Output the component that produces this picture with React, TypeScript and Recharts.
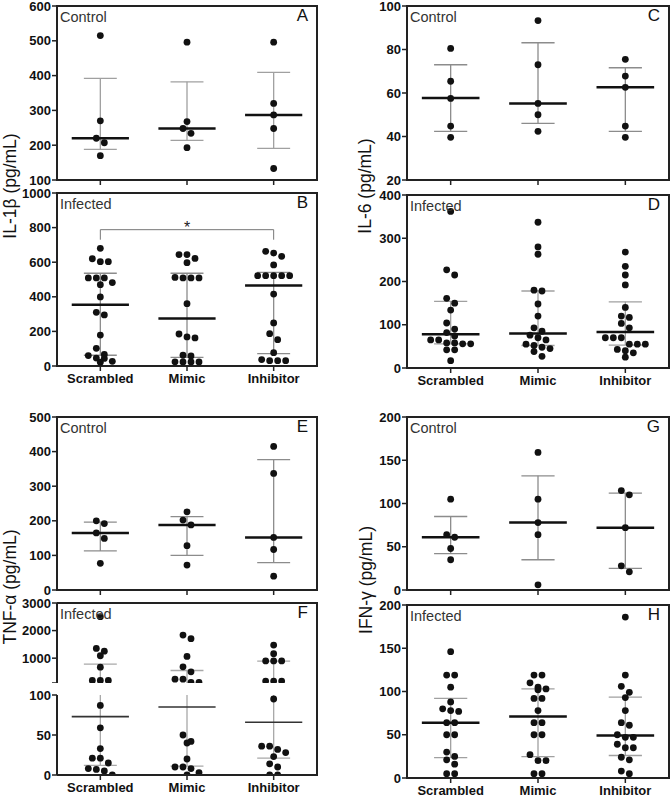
import React from 'react';
import { ScatterChart, Scatter, XAxis, YAxis, ReferenceLine, ReferenceArea } from 'recharts';

const cats = ['Scrambled', 'Mimic', 'Inhibitor'];

// A: IL-1β control
const il1bCtrl = [
  [515, 270, 220, 207, 170],
  [496, 268, 248, 234, 193],
  [496, 320, 287, 248, 133],
];
const il1bCtrlMed = [220, 248, 287];
const il1bCtrlQ1 = [188, 214, 191];
const il1bCtrlQ3 = [392, 382, 409];

// B: IL-1β infected
const il1bInf = [
  [680, 620, 603, 603, 509, 509, 509, 482, 470, 399, 310, 295, 179, 102, 67, 60, 46, 44, 27, 22],
  [644, 644, 622, 597, 512, 509, 509, 509, 360, 185, 168, 162, 62, 58, 24, 23, 23, 23],
  [663, 653, 634, 584, 522, 522, 522, 522, 522, 416, 249, 187, 152, 77, 37, 31, 31, 31],
];
const il1bInfMed = [354, 274, 465];
const il1bInfQ1 = [62, 50, 71];
const il1bInfQ3 = [536, 536, 541];

// C: IL-6 control
const il6Ctrl = [
  [80.5, 65.4, 57.5, 44.8, 39.6],
  [93.3, 73, 55.2, 50, 42.4],
  [75.5, 67.8, 62.6, 44.8, 39.6],
];
const il6CtrlMed = [57.7, 55.2, 62.6];
const il6CtrlQ1 = [42.4, 46, 42.4];
const il6CtrlQ3 = [73, 83.1, 71.6];

// D: IL-6 infected
const il6Inf = [
  [362, 227, 215, 161, 150, 134, 104, 90, 82, 74, 65, 65, 58, 58, 56, 56, 42, 42, 17],
  [337, 280, 263, 180, 178, 148, 120, 93, 85, 76, 70, 65, 55, 52, 48, 45, 38, 27],
  [268, 235, 215, 192, 140, 120, 117, 103, 93, 70, 70, 70, 55, 55, 55, 43, 40, 35, 25],
];
const il6InfMed = [78, 80, 83];
const il6InfQ1 = [56, 52, 53];
const il6InfQ3 = [154, 178, 153];

// E: TNF-α control
const tnfCtrl = [
  [200, 192, 165, 149, 77],
  [226, 202, 188, 128, 72],
  [415, 337, 152, 117, 40],
];
const tnfCtrlMed = [165, 188, 152];
const tnfCtrlQ1 = [113, 100, 79];
const tnfCtrlQ3 = [196, 212, 377];

// F: TNF-α infected (broken axis at 100)
const tnfInf = [
  [2505, 1353, 1255, 1087, 673, 190, 190, 190, 87, 59, 33, 21, 21, 15, 8, 7, 5, 0],
  [1836, 1705, 1062, 687, 505, 240, 240, 120, 120, 50, 42, 40, 20, 10, 10, 8, 3, 0],
  [1473, 1160, 900, 900, 900, 170, 170, 170, 95, 36, 36, 32, 28, 23, 14, 10, 0, 0],
];
const tnfInfMed = [73, 85, 66];
const tnfInfQ1 = [12, 11, 21];
const tnfInfQ3 = [782, 553, 891];

// G: IFN-γ control
const ifnCtrl = [
  [105, 64, 61, 48, 35],
  [159, 105, 78, 64, 6],
  [115, 110, 72, 28, 21],
];
const ifnCtrlMed = [61, 78, 72];
const ifnCtrlQ1 = [42, 35, 25];
const ifnCtrlQ3 = [85, 132, 112];

// H: IFN-γ infected
const ifnInf = [
  [146, 119, 119, 105, 88, 80, 78, 77, 64, 64, 50, 50, 30, 25, 21, 16, 5, 5],
  [119, 119, 110, 105, 103, 102, 92, 92, 78, 64, 64, 50, 50, 27, 20, 20, 5, 5],
  [186, 119, 106, 99, 93, 78, 64, 61, 50, 47, 47, 39, 35, 35, 24, 21, 8, 5],
];
const ifnInfMed = [64, 71, 49];
const ifnInfQ1 = [23.5, 24.7, 26];
const ifnInfQ3 = [92, 103, 93.4];

const FONT = '"Liberation Sans", Arial, sans-serif';

// spread points that sit at nearly the same height side by side (like a column scatter)
const swarm = (vals: number[], pxPerUnit: number, center: number, unitPx: number) => {
  const sorted = [...vals].sort((a, b) => b - a);
  const rows: number[][] = [];
  sorted.forEach((v) => {
    const row = rows[rows.length - 1];
    if (row && (row[0] - v) * pxPerUnit < 6.5) row.push(v);
    else rows.push([v]);
  });
  return rows.flatMap((row) =>
    row.map((v, i) => ({ x: center + ((i - (row.length - 1) / 2) * 8) / unitPx, y: v }))
  );
};

const Dot = (props: any) => <circle cx={props.cx} cy={props.cy} r={3.4} fill="#111" />;

type PanelProps = {
  left: number;
  top: number;
  w: number;
  h: number;
  domain: [number, number];
  ticks: number[];
  data: number[][];
  med: number[];
  q1: number[];
  q3: number[];
  showCats?: boolean;
  hideX?: boolean;
  frame?: boolean;
  tickFmt?: (v: number) => string;
  medW?: number;
  medColor?: string;
  barColor?: string;
  children?: React.ReactNode;
};

function Panel(p: PanelProps) {
  const { left, top, w, h, domain, ticks, data, med, q1, q3 } = p;
  const [d0, d1] = domain;
  const yW = 57;
  const tm = 8;
  const xh = p.showCats ? 26 : p.hideX ? 0 : 8;
  const frame = p.frame !== false;
  const pts = data.flatMap((g, i) =>
    swarm(g.filter((v) => v >= d0 && v <= d1), h / (d1 - d0), i + 1, w / 3)
  );
  const bar = { stroke: p.barColor ?? '#8c8c8c', strokeWidth: 1.3 };
  const capW = 0.19;
  const medHalf = 0.33;

  return (
    <div style={{ position: 'absolute', left: left - yW, top: top - tm }}>
      <ScatterChart width={yW + w + 2} height={tm + h + xh} margin={{ top: tm, right: 2, bottom: 0, left: 0 }}>
        <XAxis
          type="number"
          dataKey="x"
          domain={[0.5, 3.5]}
          ticks={[1, 2, 3]}
          interval={0}
          hide={p.hideX}
          height={xh}
          axisLine={false}
          tickSize={5}
          tickMargin={3}
          tickLine={{ stroke: '#222', strokeWidth: 1.5 }}
          tick={{ fontSize: 13, fontWeight: 700, fill: '#111', fontFamily: FONT }}
          tickFormatter={(v: number) => (p.showCats ? cats[v - 1] : '')}
          allowDataOverflow
        />
        <YAxis
          type="number"
          dataKey="y"
          domain={domain}
          ticks={ticks}
          interval={0}
          width={yW}
          axisLine={frame ? false : { stroke: '#222', strokeWidth: 2 }}
          tickSize={5}
          tickMargin={1}
          tickLine={{ stroke: '#222', strokeWidth: 1.5 }}
          tick={{ fontSize: 13, fontWeight: 700, fill: '#111', fontFamily: FONT }}
          tickFormatter={p.tickFmt ?? ((v: number) => String(v))}
          allowDataOverflow
        />
        {frame && (
          <ReferenceArea x1={0.5} x2={3.5} y1={d0} y2={d1} fill="none" fillOpacity={0} stroke="#222" strokeWidth={2} />
        )}
        {cats.map((_, i) => {
          const x = i + 1;
          const a = Math.max(q1[i], d0);
          const b = Math.min(q3[i], d1);
          return (
            <React.Fragment key={`e${i}`}>
              {a < b && <ReferenceLine segment={[{ x, y: a }, { x, y: b }]} {...bar} />}
              {q1[i] >= d0 && q1[i] <= d1 && (
                <ReferenceLine segment={[{ x: x - capW, y: q1[i] }, { x: x + capW, y: q1[i] }]} {...bar} />
              )}
              {q3[i] >= d0 && q3[i] <= d1 && (
                <ReferenceLine segment={[{ x: x - capW, y: q3[i] }, { x: x + capW, y: q3[i] }]} {...bar} />
              )}
              {med[i] >= d0 && med[i] <= d1 && (
                <ReferenceLine
                  segment={[{ x: x - medHalf, y: med[i] }, { x: x + medHalf, y: med[i] }]}
                  stroke={p.medColor ?? '#111'}
                  strokeWidth={p.medW ?? 2.5}
                />
              )}
            </React.Fragment>
          );
        })}
        {p.children}
        <Scatter data={pts} isAnimationActive={false} shape={Dot} />
      </ScatterChart>
    </div>
  );
}

const Corner = ({ left, top, w, text, letter }: { left: number; top: number; w: number; text: string; letter: string }) => (
  <>
    <div style={{ position: 'absolute', left: left + 3, top: top + 3, fontSize: 14.5, lineHeight: '16px', color: '#333', fontFamily: FONT }}>
      {text}
    </div>
    <div
      style={{
        position: 'absolute',
        left: left + w - 45,
        width: 36,
        top: top + 1,
        textAlign: 'right',
        fontSize: 17,
        lineHeight: '18px',
        color: '#111',
        fontFamily: FONT,
      }}
    >
      {letter}
    </div>
  </>
);

const YTitle = ({ x, y, text }: { x: number; y: number; text: string }) => (
  <div
    style={{
      position: 'absolute',
      left: x,
      top: y,
      transform: 'translate(-50%, -50%) rotate(-90deg)',
      whiteSpace: 'nowrap',
      fontSize: 17.5,
      lineHeight: '20px',
      color: '#111',
      fontFamily: FONT,
    }}
  >
    {text}
  </div>
);

export default function App() {
  const LX = 57;
  const LW = 260;
  const RX = 407;
  const RW = 262;
  return (
    <div style={{ position: 'absolute', left: 0, top: 0, width: 672, height: 799, background: '#fff', overflow: 'hidden', fontFamily: FONT }}>
      {/* IL-1β */}
      <Panel left={LX} top={6} w={LW} h={174} domain={[100, 600]} ticks={[100, 200, 300, 400, 500, 600]}
        data={il1bCtrl} med={il1bCtrlMed} q1={il1bCtrlQ1} q3={il1bCtrlQ3} barColor="#a0a0a0" />
      <Panel left={LX} top={193} w={LW} h={173} domain={[0, 1000]} ticks={[0, 200, 400, 600, 800, 1000]}
        data={il1bInf} med={il1bInfMed} q1={il1bInfQ1} q3={il1bInfQ3} showCats>
        <ReferenceLine segment={[{ x: 1, y: 788 }, { x: 3, y: 788 }]} stroke="#777" strokeWidth={1}
          label={{ value: '*', position: 'top', offset: -3, fontSize: 16, fill: '#222' }} />
        <ReferenceLine segment={[{ x: 1, y: 788 }, { x: 1, y: 730 }]} stroke="#777" strokeWidth={1} />
        <ReferenceLine segment={[{ x: 3, y: 788 }, { x: 3, y: 730 }]} stroke="#777" strokeWidth={1} />
      </Panel>

      {/* IL-6 */}
      <Panel left={RX} top={6} w={RW} h={174} domain={[20, 100]} ticks={[20, 40, 60, 80, 100]}
        data={il6Ctrl} med={il6CtrlMed} q1={il6CtrlQ1} q3={il6CtrlQ3} />
      <Panel left={RX} top={195} w={RW} h={173} domain={[0, 400]} ticks={[0, 100, 200, 300, 400]}
        data={il6Inf} med={il6InfMed} q1={il6InfQ1} q3={il6InfQ3} showCats barColor="#a0a0a0" />

      {/* TNF-α */}
      <Panel left={LX} top={417} w={LW} h={173} domain={[0, 500]} ticks={[0, 100, 200, 300, 400, 500]}
        data={tnfCtrl} med={tnfCtrlMed} q1={tnfCtrlQ1} q3={tnfCtrlQ3} />
      <Panel left={LX} top={603} w={LW} h={80} domain={[100, 3000]} ticks={[100, 1000, 2000, 3000]}
        data={tnfInf} med={tnfInfMed} q1={tnfInfQ1} q3={tnfInfQ3} hideX frame={false}
        tickFmt={(v) => (v === 100 ? '' : String(v))} medW={1.6} medColor="#333" barColor="#a8a8a8" />
      <Panel left={LX} top={695} w={LW} h={80} domain={[0, 100]} ticks={[0, 50, 100]}
        data={tnfInf} med={tnfInfMed} q1={tnfInfQ1} q3={tnfInfQ3} showCats frame={false}
        medW={1.6} medColor="#333" barColor="#a8a8a8" />
      <div style={{ position: 'absolute', left: LX, top: 602, width: LW + 1, height: 174, boxSizing: 'border-box',
        borderTop: '2px solid #222', borderRight: '2px solid #222', borderBottom: '2px solid #222' }} />

      {/* IFN-γ */}
      <Panel left={RX} top={417} w={RW} h={173} domain={[0, 200]} ticks={[0, 50, 100, 150, 200]}
        data={ifnCtrl} med={ifnCtrlMed} q1={ifnCtrlQ1} q3={ifnCtrlQ3} />
      <Panel left={RX} top={605} w={RW} h={173} domain={[0, 200]} ticks={[0, 50, 100, 150, 200]}
        data={ifnInf} med={ifnInfMed} q1={ifnInfQ1} q3={ifnInfQ3} showCats barColor="#a0a0a0" />

      <Corner left={LX} top={6} w={LW} text="Control" letter="A" />
      <Corner left={LX} top={193} w={LW} text="Infected" letter="B" />
      <Corner left={RX} top={6} w={RW} text="Control" letter="C" />
      <Corner left={RX} top={195} w={RW} text="Infected" letter="D" />
      <Corner left={LX} top={417} w={LW} text="Control" letter="E" />
      <Corner left={LX} top={603} w={LW} text="Infected" letter="F" />
      <Corner left={RX} top={417} w={RW} text="Control" letter="G" />
      <Corner left={RX} top={605} w={RW} text="Infected" letter="H" />

      <YTitle x={10} y={186} text="IL-1β (pg/mL)" />
      <YTitle x={365} y={186} text="IL-6 (pg/mL)" />
      <YTitle x={10} y={587} text="TNF-α (pg/mL)" />
      <YTitle x={366} y={580} text="IFN-γ (pg/mL)" />
    </div>
  );
}
